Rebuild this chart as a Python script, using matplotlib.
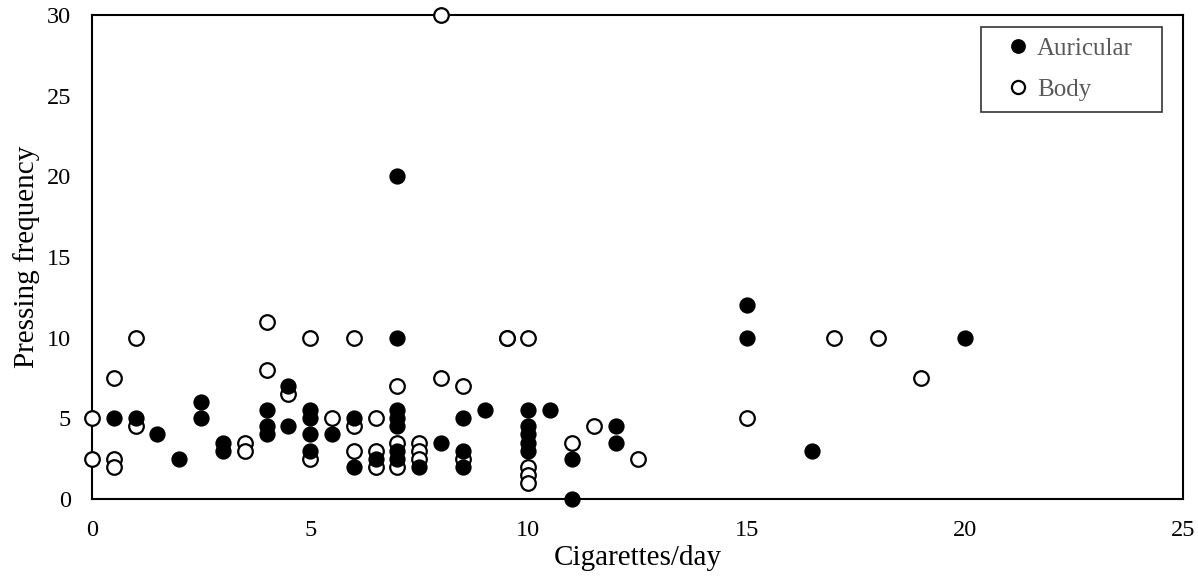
import matplotlib
matplotlib.use("Agg")
import matplotlib.pyplot as plt

auricular_x = [0.5, 1, 1.5, 2, 2.5, 2.5, 3, 3, 4, 4, 4, 4.5, 4.5, 5, 5, 5, 5, 5.5, 6, 6, 6.5,
               7, 7, 7, 7, 7, 7, 7, 7.5, 8, 8.5, 8.5, 8.5, 9, 10, 10, 10, 10, 10, 10.5, 11, 11,
               12, 12, 15, 15, 16.5, 20]
auricular_y = [5, 5, 4, 2.5, 6, 5, 3.5, 3, 5.5, 4.5, 4, 7, 4.5, 5.5, 5, 4, 3, 4, 5, 2, 2.5,
               20, 10, 5.5, 5, 4.5, 3, 2.5, 2, 3.5, 5, 3, 2, 5.5, 5.5, 4.5, 4, 3.5, 3, 5.5, 2.5, 0,
               4.5, 3.5, 12, 10, 3, 10]

body_x = [0, 0, 0.5, 0.5, 0.5, 1, 1, 3.5, 3.5, 4, 4, 4.5, 5, 5, 5.5, 6, 6, 6, 6.5, 6.5, 6.5,
          7, 7, 7, 7.5, 7.5, 7.5, 8, 8, 8.5, 8.5, 9.5, 9.5, 10, 10, 10, 10, 11, 11.5, 12.5,
          15, 17, 18, 19]
body_y = [5, 2.5, 7.5, 2.5, 2, 10, 4.5, 3.5, 3, 11, 8, 6.5, 10, 2.5, 5, 10, 4.5, 3, 5, 3, 2,
          7, 3.5, 2, 3.5, 3, 2.5, 30, 7.5, 7, 2.5, 10, 10, 10, 2, 1.5, 1, 3.5, 4.5, 2.5,
          5, 10, 10, 7.5]

x_ticks = [0, 5, 10, 15, 20, 25]
y_ticks = [0, 5, 10, 15, 20, 25, 30]

plt.rcParams['font.family'] = ['Liberation Serif', 'DejaVu Serif']

fig = plt.figure(figsize=(11.98, 5.83), dpi=100)
ax = fig.add_axes([92/1198, 1 - 499/583, (1183-92)/1198, (499-15)/583])

ms = 10.5
ax.plot(auricular_x, auricular_y, linestyle='none', marker='o', ms=ms,
        markerfacecolor='black', markeredgecolor='black', markeredgewidth=1.2,
        label='Auricular', zorder=4, clip_on=False)
ax.plot(body_x, body_y, linestyle='none', marker='o', ms=ms,
        markerfacecolor='white', markeredgecolor='black', markeredgewidth=1.6,
        label='Body', zorder=3, clip_on=False)

ax.set_xlim(0, 25)
ax.set_ylim(0, 30)
ax.set_xticks(x_ticks)
ax.set_yticks(y_ticks)
ax.tick_params(axis='x', length=0, labelsize=17.5, pad=15)
ax.tick_params(axis='y', length=0, labelsize=17.5, pad=15)
for s in ax.spines.values():
    s.set_linewidth(1.5)
    s.set_color('black')

ax.set_xlabel('Cigarettes/day', fontsize=21, labelpad=3)
ax.set_ylabel('Pressing frequency', fontsize=21, labelpad=5)

W, H = 1091.0, 484.0
lx0 = (981 - 92) / W
lw = (1162 - 981) / W
ltop = 1 - (27 - 15) / H
leg = ax.legend(loc='upper left', bbox_to_anchor=(lx0, ltop - 0.3, lw, 0.3), mode='expand',
                borderaxespad=0,
                fontsize=18, frameon=True, fancybox=False, edgecolor='black',
                handletextpad=-0.3, handlelength=2.12, borderpad=0.42, labelspacing=0.74,
                markerscale=0.9)
leg.get_frame().set_linewidth(1.2)
for t in leg.get_texts():
    t.set_color('#595959')

fig.savefig('out.png', dpi=100)
